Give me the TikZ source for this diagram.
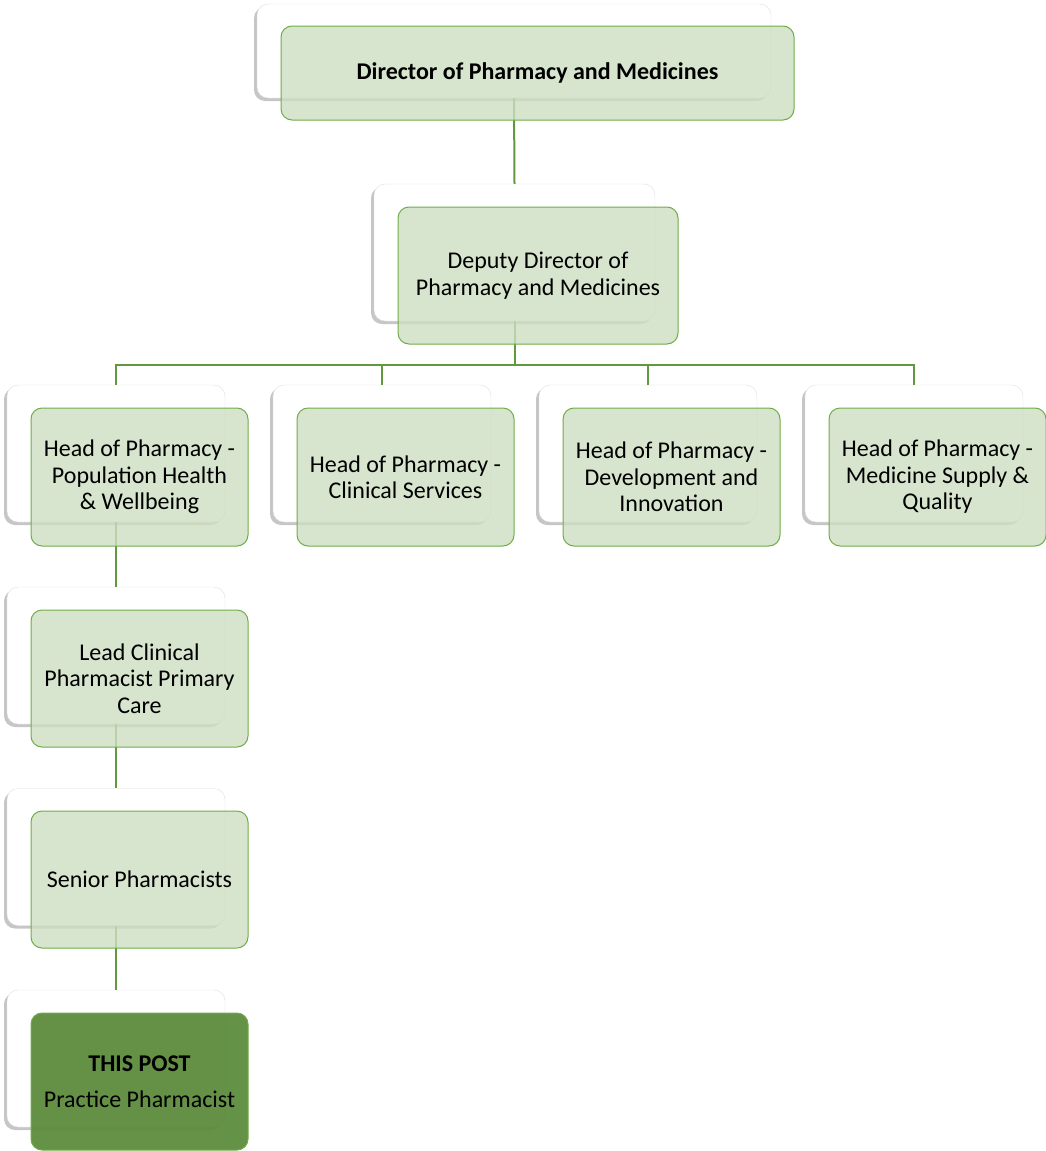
\documentclass[tikz,border=0pt]{standalone}
\usepackage{fontspec}
\setmainfont{Carlito}
\usetikzlibrary{shadows}
\definecolor{gfill}{RGB}{205,222,194}
\definecolor{gline}{RGB}{112,173,71}
\definecolor{conn}{RGB}{98,152,62}
\definecolor{dfill}{RGB}{92,140,60}
\begin{document}
\begin{tikzpicture}[x=1pt,y=-1pt,
  backbox/.style={draw=gray!25,fill=white,rounded corners=11pt,
    drop shadow={shadow xshift=-3pt,shadow yshift=-3pt,opacity=0.45,fill=gray},
    inner sep=0pt},
  frontbox/.style={draw=gline,line width=1pt,fill=gfill,fill opacity=0.8,text opacity=1,
    rounded corners=11pt,inner sep=0pt,align=center,
    font=\fontsize{24}{26.5}\selectfont},
  darkbox/.style={frontbox,fill=dfill,fill opacity=0.95},
  link/.style={draw=conn,line width=2pt}]
\useasboundingbox (0,0) rectangle (1046,1151);
% back boxes
\node[backbox,minimum width=514,minimum height=94] (dirb) at (514,51) {};
\node[backbox,minimum width=281,minimum height=137] (depb) at (514.5,252.5) {};
\node[backbox,minimum width=218,minimum height=137] (h1b) at (116,453.5) {};
\node[backbox,minimum width=218,minimum height=137] (h2b) at (382,453.5) {};
\node[backbox,minimum width=218,minimum height=137] (h3b) at (648,453.5) {};
\node[backbox,minimum width=218,minimum height=137] (h4b) at (914,453.5) {};
\node[backbox,minimum width=218,minimum height=137] (leadb) at (116,655.5) {};
\node[backbox,minimum width=218,minimum height=137] (senb) at (116,857) {};
\node[backbox,minimum width=218,minimum height=137] (postb) at (116,1058.5) {};
% connectors
\coordinate (bus) at (514.5,365);
\draw[link] (dirb.south) -- (depb.north);
\draw[link] (depb.south) -- (bus);
\draw[link] (h1b.north) |- (bus) -| (h4b.north);
\draw[link] (h2b.north) -- (h2b.north |- bus);
\draw[link] (h3b.north) -- (h3b.north |- bus);
\draw[link] (h1b.south) -- (leadb.north);
\draw[link] (leadb.south) -- (senb.north);
\draw[link] (senb.south) -- (postb.north);
% front boxes
\node[frontbox,minimum width=513,minimum height=94,font=\fontsize{24}{26}\selectfont\bfseries] (dir) at (537.5,73) {Director of Pharmacy and Medicines};
\node[frontbox,minimum width=280,minimum height=137] (dep) at (538,275.5) {Deputy Director of\\Pharmacy and Medicines};
\node[frontbox,minimum width=217,minimum height=138] (h1) at (139.5,477) {Head of Pharmacy -\\Population Health\\\& Wellbeing};
\node[frontbox,minimum width=217,minimum height=138] (h2) at (405.5,477) {Head of Pharmacy -\\Clinical Services};
\node[frontbox,minimum width=217,minimum height=138] (h3) at (671.5,477) {Head of Pharmacy -\\Development and\\Innovation};
\node[frontbox,minimum width=217,minimum height=138] (h4) at (937.5,477) {Head of Pharmacy -\\Medicine Supply \&\\Quality};
\node[frontbox,minimum width=217,minimum height=137] (lead) at (139.5,678.5) {Lead Clinical\\Pharmacist Primary\\Care};
\node[frontbox,minimum width=217,minimum height=137] (sen) at (139.5,879.5) {Senior Pharmacists};
\node[darkbox,minimum width=217,minimum height=137] (post) at (139.5,1081.5) {\textbf{THIS POST}\\[10pt]Practice Pharmacist};
\end{tikzpicture}
\end{document}
